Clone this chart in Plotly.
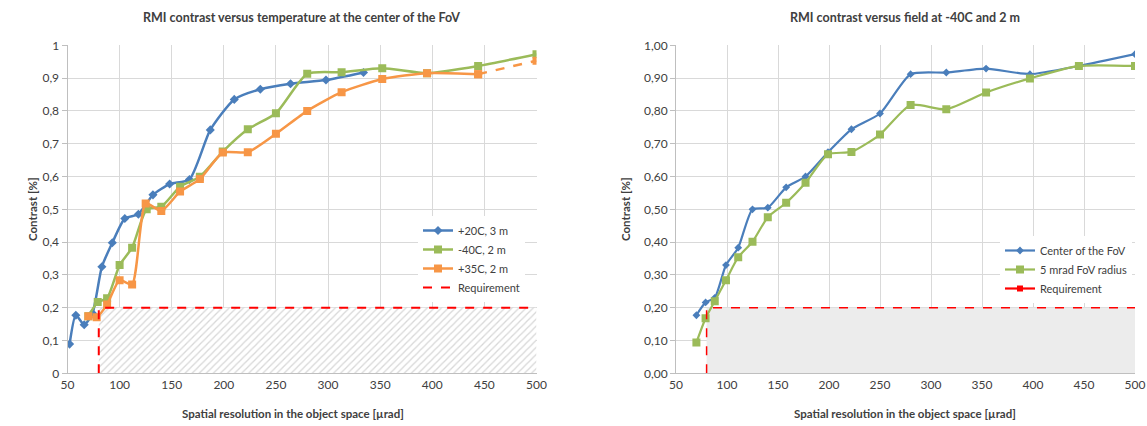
import plotly.graph_objects as go

# ---------------- data ----------------
# Left chart: RMI contrast versus temperature at the center of the FoV
l20_x = [52, 58, 66, 74, 83, 93, 105, 118, 132, 148, 167, 187, 210, 235, 264, 298, 334]
l20_y = [0.089, 0.177, 0.148, 0.183, 0.325, 0.398, 0.472, 0.485, 0.544, 0.577, 0.591, 0.742, 0.835, 0.866, 0.883, 0.894, 0.917]

l40_x = [70, 79, 88, 100, 112, 126, 140, 158, 177, 199, 223, 250, 280, 313, 352, 395, 444, 500]
l40_y = [0.174, 0.217, 0.229, 0.330, 0.383, 0.500, 0.508, 0.569, 0.599, 0.676, 0.744, 0.793, 0.913, 0.918, 0.930, 0.915, 0.937, 0.973]

l35_x = [70, 78, 88, 100, 112, 125, 140, 158, 177, 199, 223, 250, 280, 313, 352, 395, 444]
l35_y = [0.174, 0.171, 0.210, 0.284, 0.271, 0.518, 0.495, 0.554, 0.592, 0.673, 0.674, 0.730, 0.800, 0.857, 0.897, 0.915, 0.912]
l35_ext_x = [444, 500]
l35_ext_y = [0.912, 0.953]

# Right chart: RMI contrast versus field at -40C and 2 m
rc_x = [70, 79, 88, 99, 111, 125, 140, 158, 177, 199, 222, 250, 280, 315, 354, 397, 445, 500]
rc_y = [0.177, 0.216, 0.230, 0.330, 0.383, 0.500, 0.505, 0.567, 0.600, 0.674, 0.744, 0.792, 0.912, 0.917, 0.929, 0.912, 0.937, 0.973]

r5_x = [70, 79, 88, 99, 111, 125, 140, 158, 177, 199, 222, 250, 280, 315, 354, 397, 445, 500]
r5_y = [0.094, 0.168, 0.220, 0.284, 0.354, 0.401, 0.476, 0.520, 0.581, 0.668, 0.675, 0.728, 0.818, 0.805, 0.856, 0.899, 0.937, 0.937]

req_x = [80, 80, 500]
req_y = [0, 0.2, 0.2]
zone_x = [80, 500, 500, 80, 80]
zone_y = [0, 0, 0.2, 0.2, 0]

x_ticks = [50, 100, 150, 200, 250, 300, 350, 400, 450, 500]
y_ticks = [0, 0.1, 0.2, 0.3, 0.4, 0.5, 0.6, 0.7, 0.8, 0.9, 1.0]
left_y_labels = ["0", "0,1", "0,2", "0,3", "0,4", "0,5", "0,6", "0,7", "0,8", "0,9", "1"]
right_y_labels = ["0,00", "0,10", "0,20", "0,30", "0,40", "0,50", "0,60", "0,70", "0,80", "0,90", "1,00"]

BLUE = "#4A7EBB"
GREEN = "#9BBB59"
ORANGE = "#F79646"
RED = "#FF0000"
TXT = "#404040"
FONT = "Lato"

W = 1147
H = 426


def px(x):
    return x / W


def py(y):
    return 1 - y / H


fig = go.Figure()

# ---------- left chart ----------
fig.add_trace(go.Scatter(x=zone_x, y=zone_y, fill="toself", mode="lines", line=dict(width=0),
                         fillcolor="rgba(0,0,0,0)",
                         fillpattern=dict(shape="/", fgcolor="#b0b0b0", bgcolor="white", size=5, solidity=0.25),
                         showlegend=False, hoverinfo="skip", xaxis="x", yaxis="y"))
fig.add_trace(go.Scatter(x=l20_x, y=l20_y, name="+20C, 3 m", mode="lines+markers",
                         line=dict(color=BLUE, width=2.5, shape="spline", smoothing=0.6),
                         marker=dict(symbol="diamond", size=7, color=BLUE),
                         legend="legend", xaxis="x", yaxis="y"))
fig.add_trace(go.Scatter(x=l40_x, y=l40_y, name="-40C, 2 m", mode="lines+markers",
                         line=dict(color=GREEN, width=2.5, shape="spline", smoothing=0.6),
                         marker=dict(symbol="square", size=8, color=GREEN),
                         legend="legend", xaxis="x", yaxis="y"))
fig.add_trace(go.Scatter(x=l35_ext_x, y=l35_ext_y, mode="lines+markers", showlegend=False,
                         line=dict(color=ORANGE, width=2.5, dash="dash"),
                         marker=dict(symbol="square", size=8, color=ORANGE),
                         xaxis="x", yaxis="y"))
fig.add_trace(go.Scatter(x=l35_x, y=l35_y, name="+35C, 2 m", mode="lines+markers",
                         line=dict(color=ORANGE, width=2.5, shape="spline", smoothing=0.6),
                         marker=dict(symbol="square", size=8, color=ORANGE),
                         legend="legend", xaxis="x", yaxis="y"))
fig.add_trace(go.Scatter(x=req_x, y=req_y, name="Requirement", mode="lines",
                         line=dict(color=RED, width=2, dash="dash"),
                         legend="legend", xaxis="x", yaxis="y"))

# ---------- right chart ----------
fig.add_trace(go.Scatter(x=zone_x, y=zone_y, fill="toself", mode="lines", line=dict(width=0),
                         fillcolor="#ececec",
                         showlegend=False, hoverinfo="skip", xaxis="x2", yaxis="y2"))
fig.add_trace(go.Scatter(x=rc_x, y=rc_y, name="Center of the FoV", mode="lines+markers",
                         line=dict(color=BLUE, width=2.2, shape="spline", smoothing=0.6),
                         marker=dict(symbol="diamond", size=6, color=BLUE),
                         legend="legend2", xaxis="x2", yaxis="y2"))
fig.add_trace(go.Scatter(x=r5_x, y=r5_y, name="5 mrad FoV radius", mode="lines+markers",
                         line=dict(color=GREEN, width=2.2, shape="spline", smoothing=0.6),
                         marker=dict(symbol="square", size=8, color=GREEN),
                         legend="legend2", xaxis="x2", yaxis="y2"))
fig.add_trace(go.Scatter(x=req_x, y=req_y, mode="lines", showlegend=False,
                         line=dict(color=RED, width=1.5, dash="dash"),
                         xaxis="x2", yaxis="y2"))
fig.add_trace(go.Scatter(x=[None], y=[None], name="Requirement", mode="lines+markers",
                         line=dict(color=RED, width=2.2),
                         marker=dict(symbol="square", size=6, color=RED),
                         legend="legend2", xaxis="x2", yaxis="y2"))

axis_common = dict(range=[50, 500], tickvals=x_ticks, ticktext=[str(v) for v in x_ticks],
                   showgrid=True, gridcolor="#d9d9d9", gridwidth=1, zeroline=False,
                   showline=True, linecolor="#bfbfbf", linewidth=1, automargin=False,
                   tickfont=dict(family=FONT, size=12, color=TXT), ticks="", fixedrange=True)
yaxis_common = dict(range=[0, 1], tickvals=y_ticks,
                    showgrid=True, gridcolor="#d9d9d9", gridwidth=1, zeroline=False,
                    showline=True, linecolor="#bfbfbf", linewidth=1, automargin=False,
                    ticks="outside", ticklen=5, tickcolor="#bfbfbf",
                    tickfont=dict(family=FONT, size=12, color=TXT), fixedrange=True)

yd = [py(373.3), py(45.3)]
title_font = dict(family=FONT, size=12.5, color=TXT)
axt_font = dict(family=FONT, size=11.5, color=TXT)


def ann(text, x, y, font, angle=0):
    return dict(text=text, x=px(x), y=py(y), xref="paper", yref="paper", showarrow=False,
                xanchor="center", yanchor="middle", font=font, textangle=angle)


fig.update_layout(
    width=W, height=H,
    margin=dict(l=0, r=0, t=0, b=0),
    paper_bgcolor="white", plot_bgcolor="white",
    font=dict(family=FONT, color=TXT),
    xaxis=dict(domain=[px(67.5), px(536.5)], anchor="y", **axis_common),
    yaxis=dict(domain=yd, anchor="x", ticktext=left_y_labels, **yaxis_common),
    xaxis2=dict(domain=[px(676), px(1135)], anchor="y2", **axis_common),
    yaxis2=dict(domain=yd, anchor="x2", ticktext=right_y_labels, **yaxis_common),
    legend=dict(x=px(418), y=py(216), xanchor="left", yanchor="top",
                bgcolor="white", font=dict(family=FONT, size=11, color=TXT),
                tracegroupgap=0, itemwidth=30),
    legend2=dict(x=px(1000), y=py(236), xanchor="left", yanchor="top",
                 bgcolor="white", font=dict(family=FONT, size=11, color=TXT),
                 tracegroupgap=0, itemwidth=30),
    annotations=[
        ann("<b>RMI contrast versus temperature at the center of the FoV</b>", 301, 18, title_font),
        ann("<b>RMI contrast versus field at -40C and 2 m</b>", 905, 18, title_font),
        ann("<b>Spatial resolution in the object space [µrad]</b>", 293, 413, axt_font),
        ann("<b>Spatial resolution in the object space [µrad]</b>", 905, 413, axt_font),
        ann("<b>Contrast [%]</b>", 32, 209, axt_font, -90),
        ann("<b>Contrast [%]</b>", 625, 209, axt_font, -90),
    ],
)

fig.write_html("out.html",
               config={"displayModeBar": False},
               post_script="document.body.style.margin='0px';document.body.style.overflow='hidden';")
